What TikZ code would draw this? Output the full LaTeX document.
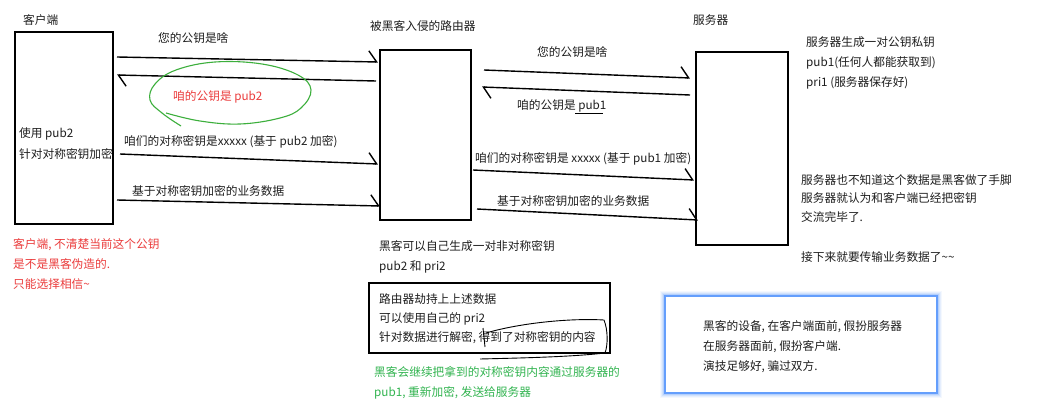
\documentclass[tikz,border=0pt]{standalone}
\usepackage{fontspec}
\setmainfont{Noto Sans CJK SC}
\usetikzlibrary{arrows.meta}
\definecolor{txt}{RGB}{30,30,30}
\definecolor{redtxt}{RGB}{235,60,60}
\definecolor{greentxt}{RGB}{50,180,80}
\definecolor{greenline}{RGB}{60,175,60}
\definecolor{glowblue}{RGB}{100,158,252}
\begin{document}
\begin{tikzpicture}[x=1pt,y=-1pt,
  lbl/.style={anchor=west,inner sep=0pt,font=\fontsize{11.7}{20}\selectfont,text=txt,align=left},
  boxed/.style={draw,line width=1.6pt,inner sep=0pt},
  msg/.style={line width=1.4pt,-{Straight Barb[left,length=8pt,width=22pt]}},
]
\useasboundingbox (0,0) rectangle (1059,404);
\fill[white] (0,0) rectangle (1059,404);

% main boxes
\node[boxed,minimum width=98pt,minimum height=192pt] (client) at (64,128) {};
\node[boxed,minimum width=91pt,minimum height=170pt] (router) at (425.5,135) {};
\node[boxed,minimum width=92pt,minimum height=193pt] (server) at (742,148.5) {};

% titles
\node[lbl] (lclient) at (23,20) {客户端};
\node[lbl] (lrouter) at (370,26) {被黑客入侵的路由器};
\node[lbl] (lserver) at (693,20) {服务器};

\node[lbl,font=\fontsize{11.7}{21}\selectfont] (cuse) at (19,143.5) {使用 pub2\\针对对称密钥加密};

% connector end points
\coordinate (a1s) at (117,57);  \coordinate (a1e) at (378,62);
\coordinate (a2s) at (376,81);  \coordinate (a2e) at (117,75);
\coordinate (a3s) at (120,154); \coordinate (a3e) at (378,164);
\coordinate (a4s) at (117,200); \coordinate (a4e) at (380,206);
\coordinate (b1s) at (484,70);  \coordinate (b1e) at (690,78);
\coordinate (b2s) at (690,95);  \coordinate (b2e) at (482,87);
\coordinate (b3s) at (473,170); \coordinate (b3e) at (694,180);
\coordinate (b4s) at (477,209); \coordinate (b4e) at (698,220);

\draw[msg] (a1s) -- (a1e);
\draw[msg] (a2s) -- (a2e);
\draw[msg] (a3s) -- (a3e);
\draw[msg] (a4s) -- (a4e);
\draw[msg] (b1s) -- (b1e);
\draw[msg] (b2s) -- (b2e);
\draw[msg] (b3s) -- (b3e);
\draw[msg] (b4s) -- (b4e);

% message labels
\node[lbl] (m1) at (158,38) {您的公钥是啥};
\node[lbl,text=redtxt] (m2) at (173,97) {咱的公钥是 pub2};
\node[lbl] (m3) at (124,142) {咱们的对称密钥是xxxxx (基于 pub2 加密)};
\node[lbl] (m4) at (132,191) {基于对称密钥加密的业务数据};
\node[lbl] (n1) at (537,52) {您的公钥是啥};
\node[lbl] (n2) at (517,106) {咱的公钥是 pub1};
\node[lbl] (n3) at (475,159) {咱们的对称密钥是 xxxxx (基于 pub1 加密)};
\node[lbl] (n4) at (497,201) {基于对称密钥加密的业务数据};

% underline under pub1
\draw[line width=0.8pt] (575,113) -- (603,113);

% green hand-drawn ellipse
\draw[greenline,line width=1.1pt] plot[smooth,tension=0.65] coordinates {
  (181,126) (162,113) (150,100) (155,84) (176,70) (215,62) (262,64) (298,75)
  (311,90) (301,108) (280,118) (240,124) (200,121) (166,113)};

% client warning
\node[lbl,text=redtxt] (cwarn) at (13,264)
  {客户端, 不清楚当前这个公钥\\是不是黑客伪造的.\\只能选择相信{\textasciitilde}};

% router notes
\node[lbl] (hgen) at (379,257) {黑客可以自己生成一对非对称密钥\\pub2 和 pri2};
\node[boxed,minimum width=241pt,minimum height=70pt] (hijack) at (489.5,318) {};
\node[lbl,font=\fontsize{11.7}{19}\selectfont] (htxt) at (379,319)
  {路由器劫持上上述数据\\可以使用自己的 pri2\\针对数据进行解密, 得到了对称密钥的内容};
\draw[line width=0.9pt] (483,328) -- (485,347);
\draw[line width=0.9pt] (486,333) .. controls (520,323) and (570,318) .. (604,320)
  .. controls (608,330) and (608,345) .. (605,353)
  .. controls (570,357) and (520,358) .. (480,359);
\node[lbl,text=greentxt] (green) at (374,383)
  {黑客会继续把拿到的对称密钥内容通过服务器的\\pub1, 重新加密, 发送给服务器};

% server notes
\node[lbl] (sgen) at (806,63) {服务器生成一对公钥私钥\\pub1(任何人都能获取到)\\pri1 (服务器保存好)};
\node[lbl,font=\fontsize{11.7}{18.5}\selectfont] (snote) at (801,198.5)
  {服务器也不知道这个数据是黑客做了手脚\\服务器就认为和客户端已经把密钥\\交流完毕了.};
\node[lbl] (snext) at (801,257) {接下来就要传输业务数据了{\textasciitilde}{\textasciitilde}};

% glowing blue box
\foreach \w/\o in {10/0.07,8/0.1,6/0.15,4/0.25,2.5/0.4}{
  \draw[glowblue,line width=\w pt,opacity=\o] (665,296) rectangle (937,393);}
\fill[white] (665,296) rectangle (937,393);
\draw[glowblue,line width=1.2pt] (665,296) rectangle (937,393);
\node[lbl] (btxt) at (703,347) {黑客的设备, 在客户端面前, 假扮服务器\\在服务器面前, 假扮客户端.\\演技足够好, 骗过双方.};
\end{tikzpicture}
\end{document}
